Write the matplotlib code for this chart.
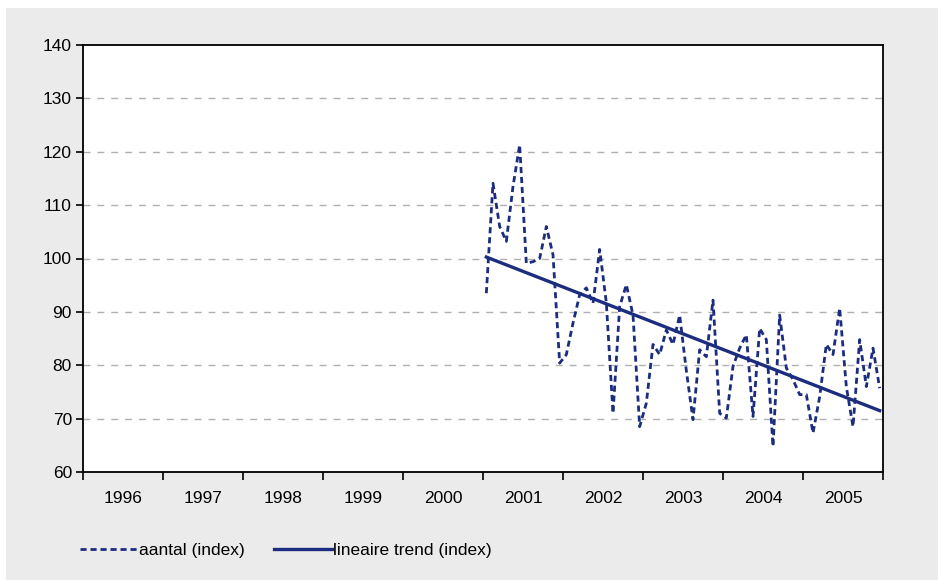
import numpy as np
import matplotlib.pyplot as plt
from matplotlib.patches import Rectangle

plt.rcParams["font.family"] = ["Liberation Sans", "DejaVu Sans"]

# -------------------------
# Data: monthly index, Jan 2001 - Dec 2005
# -------------------------
start_year = 2001
aantal = [
    93.5, 114.1, 106.0, 103.2, 113.5, 121.3, 99.1, 99.4, 100.0, 106.0,
    100.7, 80.4, 82.0, 87.9, 93.2, 94.5, 91.6, 101.7, 91.7, 71.0,
    91.0, 95.1, 89.4, 68.5, 72.9, 83.9, 82.0, 86.6, 83.9, 89.4,
    79.0, 69.8, 82.9, 81.6, 92.2, 71.0, 70.1, 79.8, 83.2, 85.7,
    70.4, 86.9, 84.8, 64.8, 89.4, 79.5, 77.3, 74.5, 74.5, 67.3,
    74.1, 83.9, 82.0, 90.7, 76.0, 68.5, 84.8, 76.0, 83.2, 75.7,
]
year_labels = ["1996", "1997", "1998", "1999", "2000",
               "2001", "2002", "2003", "2004", "2005"]

# mid-month positions in decimal years
x = start_year + (np.arange(len(aantal)) + 0.5) / 12
coef = np.polyfit(x, aantal, 1)
trend = np.polyval(coef, x)

navy = "#1c2d80"

# -------------------------
# Plot
# -------------------------
fig = plt.figure(figsize=(9.38, 5.8), dpi=100)
fig.patch.set_facecolor("white")
fig.patches.append(Rectangle((6 / 938, 0), 1, 572 / 580, transform=fig.transFigure,
                             facecolor="#ebebeb", edgecolor="none", zorder=-10))

ax = fig.add_axes([83 / 938, 108 / 580, 800 / 938, 427 / 580])
ax.set_facecolor("white")

ax.plot(x, aantal, color=navy, linewidth=2.0, linestyle=(0, (2.2, 1.4)),
        label="aantal (index)")
ax.plot(x, trend, color=navy, linewidth=2.4, label="lineaire trend (index)")

ax.set_xlim(1996, 2006)
ax.set_ylim(60, 140)
ax.set_yticks(range(60, 141, 10))
ax.set_xticks(range(1996, 2007))
ax.set_xticklabels([])
ax.set_xticks(np.arange(1996.5, 2006, 1), minor=True)
ax.set_xticklabels(year_labels, minor=True)
ax.tick_params(axis="x", which="major", length=6, width=1.2, direction="out")
ax.tick_params(axis="x", which="minor", length=0, pad=14, labelsize=12.5)
ax.tick_params(axis="y", length=5, width=1.2, direction="out", pad=3, labelsize=12.5)

for y in range(70, 140, 10):
    ax.axhline(y, color="#b0b0b0", linewidth=1.0, linestyle=(0, (5, 5)), zorder=0)

for s in ax.spines.values():
    s.set_linewidth(1.3)
    s.set_color("black")

fig.legend(loc="center left", bbox_to_anchor=(80 / 938, 1 - 550 / 580),
           ncol=2, frameon=False, fontsize=12.5, handlelength=3.3,
           handletextpad=0.1, columnspacing=1.7, borderpad=0, borderaxespad=0)

plt.savefig("out.png", dpi=100)
